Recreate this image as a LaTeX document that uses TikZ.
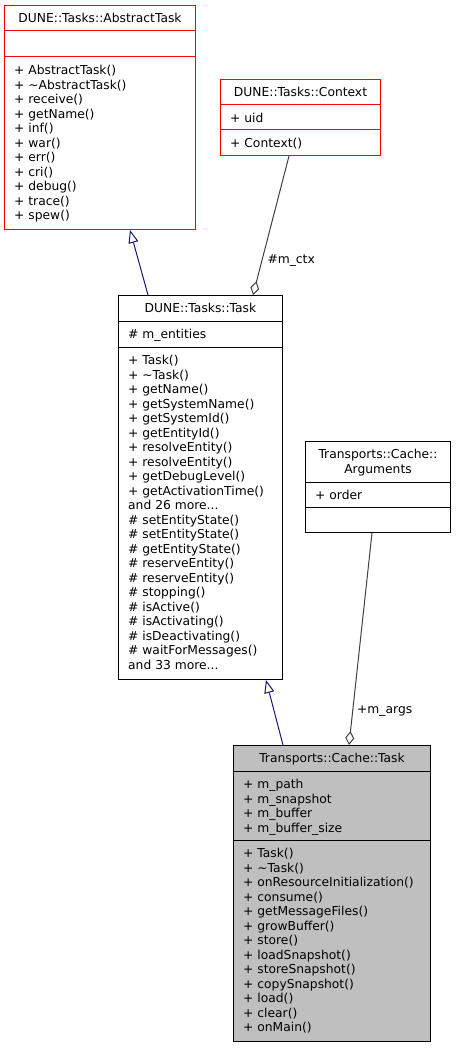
\documentclass[tikz,border=0pt]{standalone}
\usepackage{fontspec}
\setmainfont{DejaVu Sans}
\usetikzlibrary{arrows.meta, calc}

\definecolor{edgegray}{HTML}{404040}
\definecolor{inhblue}{HTML}{191970}
\definecolor{boxgray}{HTML}{BFBFBF}

\tikzset{
	classbox/.style={draw, line width=1pt, fill=white, anchor=north west, inner sep=0pt},
	members/.style={anchor=north west, inner sep=0pt, align=left, font=\fontsize{12.3}{14.5}\selectfont},
	title/.style={anchor=north, inner sep=0pt, align=center, font=\fontsize{12.3}{14.5}\selectfont},
	inherit/.style={inhblue, line width=1pt, -{Triangle[fill=white, length=13pt, width=10pt]}},
	usage/.style={edgegray, line width=1pt, -{Diamond[fill=white, length=14pt, width=9pt]}},
	rolelabel/.style={anchor=west, inner sep=0pt, black, font=\fontsize{12.3}{14.5}\selectfont},
}

\begin{document}
\begin{tikzpicture}[x=1pt, y=-1pt]
	\useasboundingbox (0,0) rectangle (455,1048);
	% Boxes
	\node[classbox, draw=red, minimum width=191pt, minimum height=224pt] (abs) at (4,5) {};
	\node[classbox, draw=red, minimum width=160pt, minimum height=76pt] (ctx) at (220,79) {};
	\node[classbox, minimum width=164pt, minimum height=384pt] (task) at (118,295) {};
	\node[classbox, minimum width=145pt, minimum height=91pt] (args) at (305,441) {};
	\node[classbox, fill=boxgray, minimum width=197pt, minimum height=296pt] (cache) at (233,745) {};
	
	% Separators
	\draw[red, line width=1pt] ($(abs.north west)+(0,26)$) -- ($(abs.north east)+(0,26)$);
	\draw[red, line width=1pt] ($(abs.north west)+(0,52)$) -- ($(abs.north east)+(0,52)$);
	\draw[red, line width=1pt] ($(ctx.north west)+(0,26)$) -- ($(ctx.north east)+(0,26)$);
	\draw[red, line width=1pt] ($(ctx.north west)+(0,51)$) -- ($(ctx.north east)+(0,51)$);
	\draw[line width=1pt] ($(task.north west)+(0,26)$) -- ($(task.north east)+(0,26)$);
	\draw[line width=1pt] ($(task.north west)+(0,52)$) -- ($(task.north east)+(0,52)$);
	\draw[line width=1pt] ($(args.north west)+(0,41)$) -- ($(args.north east)+(0,41)$);
	\draw[line width=1pt] ($(args.north west)+(0,66)$) -- ($(args.north east)+(0,66)$);
	\draw[line width=1pt] ($(cache.north west)+(0,26)$) -- ($(cache.north east)+(0,26)$);
	\draw[line width=1pt] ($(cache.north west)+(0,95)$) -- ($(cache.north east)+(0,95)$);
	
	% Texts
	\node[title] (abs-name) at ($(abs.north)+(0,8)$) {DUNE::Tasks::AbstractTask};
	\node[members] (abs-ops) at ($(abs.north west)+(10,60)$) {+ AbstractTask()\\+ \textasciitilde AbstractTask()\\+ receive()\\+ getName()\\+ inf()\\+ war()\\+ err()\\+ cri()\\+ debug()\\+ trace()\\+ spew()};
	
	\node[title] (ctx-name) at ($(ctx.north)+(0,8)$) {DUNE::Tasks::Context};
	\node[members] (ctx-attr) at ($(ctx.north west)+(10,34)$) {+ uid};
	\node[members] (ctx-ops) at ($(ctx.north west)+(10,59)$) {+ Context()};
	
	\node[title] (task-name) at ($(task.north)+(0,8)$) {DUNE::Tasks::Task};
	\node[members] (task-attr) at ($(task.north west)+(10,34)$) {\# m\_entities};
	\node[members] (task-ops) at ($(task.north west)+(10,60)$) {+ Task()\\+ \textasciitilde Task()\\+ getName()\\+ getSystemName()\\+ getSystemId()\\+ getEntityId()\\+ resolveEntity()\\+ resolveEntity()\\+ getDebugLevel()\\+ getActivationTime()\\and 26 more...\\\# setEntityState()\\\# setEntityState()\\\# getEntityState()\\\# reserveEntity()\\\# reserveEntity()\\\# stopping()\\\# isActive()\\\# isActivating()\\\# isDeactivating()\\\# waitForMessages()\\and 33 more...};
	
	\node[title] (args-name) at ($(args.north)+(0,8)$) {Transports::Cache::\\Arguments};
	\node[members] (args-attr) at ($(args.north west)+(10,49)$) {+ order};
	
	\node[title] (cache-name) at ($(cache.north)+(0,8)$) {Transports::Cache::Task};
	\node[members] (cache-attr) at ($(cache.north west)+(10,34)$) {+ m\_path\\+ m\_snapshot\\+ m\_buffer\\+ m\_buffer\_size};
	\node[members] (cache-ops) at ($(cache.north west)+(10,103)$) {+ Task()\\+ \textasciitilde Task()\\+ onResourceInitialization()\\+ consume()\\+ getMessageFiles()\\+ growBuffer()\\+ store()\\+ loadSnapshot()\\+ storeSnapshot()\\+ copySnapshot()\\+ load()\\+ clear()\\+ onMain()};
	
	% Connectors
	\coordinate (abs-foot) at ($(abs.south west)+(126,0)$);
	\coordinate (task-head) at ($(task.north west)+(30,0)$);
	\coordinate (task-hook) at ($(task.north west)+(135,0)$);
	\coordinate (task-foot) at ($(task.south west)+(148,0)$);
	\coordinate (ctx-foot) at ($(ctx.south west)+(69,0)$);
	\coordinate (args-foot) at ($(args.south west)+(67,0)$);
	\coordinate (cache-head) at ($(cache.north west)+(50,0)$);
	\coordinate (cache-hook) at ($(cache.north west)+(116,0)$);
	\draw[inherit] (task-head) -- (abs-foot);
	\draw[inherit] (cache-head) -- (task-foot);
	\draw[usage] (ctx-foot) -- (task-hook) node[rolelabel, pos=0.75, xshift=5pt] (ctx-role) {\#m\_ctx};
	\draw[usage] (args-foot) -- (cache-hook) node[rolelabel, pos=0.84, xshift=4pt] (args-role) {+m\_args};
\end{tikzpicture}
\end{document}
